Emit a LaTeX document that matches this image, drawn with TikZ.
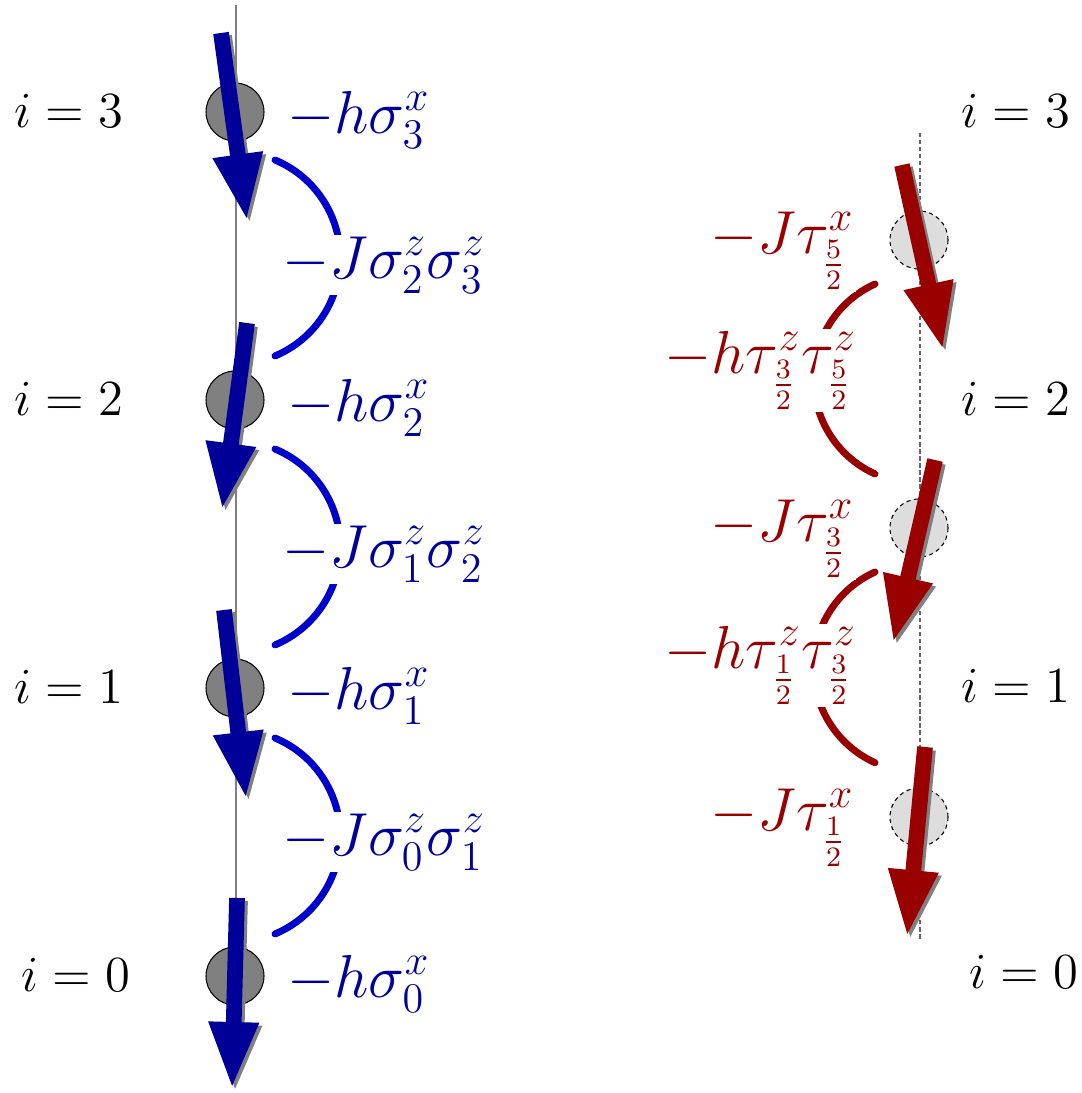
\documentclass[tikz,border=0pt]{standalone}
\usepackage{amsmath}
\usepackage{tikz}
\usetikzlibrary{arrows.meta, positioning}
\definecolor{spinblue}{RGB}{0,0,153}
\definecolor{bondblue}{RGB}{0,0,204}
\definecolor{spinred}{RGB}{153,0,0}
\definecolor{shadowgray}{RGB}{128,128,128}
\definecolor{sitegray}{RGB}{128,128,128}
\definecolor{dualgray}{RGB}{221,221,221}
\tikzset{
  site/.style={circle, draw=black, fill=sitegray, minimum size=5.8mm,
    inner sep=0pt, line width=0.3pt},
  dualsite/.style={circle, draw=black, fill=dualgray, minimum size=5.8mm,
    inner sep=0pt, line width=0.3pt, dash pattern=on 1.2pt off 1pt},
  spin/.style={line width=1.57mm, -{Triangle[length=6.7mm, width=4.6mm]}},
  spinshadow/.style={spin, draw=shadowgray,
    transform canvas={xshift=0.3mm, yshift=-0.3mm}},
  bond/.style={line width=0.7mm, line cap=round},
  idx/.style={font=\fontsize{15.8}{19}\selectfont, anchor=base west, inner sep=0pt},
  term/.style={font=\fontsize{16.7}{20}\selectfont, anchor=base west,
    fill=white, inner sep=0.5pt}
}

\begin{document}
\begin{tikzpicture}[x=0.1mm, y=0.1mm]
  \useasboundingbox (0,0) rectangle (1081,-1093);
  % original chain
  \draw[gray, line width=0.4pt] (236,-5) -- (236,-976);
  \node[site] (s3) at (235,-112) {};
  \node[site] (s2) at (235,-400) {};
  \node[site] (s1) at (235,-688) {};
  \node[site] (s0) at (235,-976) {};
  \node[idx] (i3) at (14,-127) {$i=3$};
  \node[idx] (i2) at (14,-415) {$i=2$};
  \node[idx] (i1) at (14,-703) {$i=1$};
  \node[idx] (i0) at (21,-991) {$i=0$};
  % bonds
  \draw[bond, bondblue] (275,-160) arc[start angle=67.3, end angle=-67.3, radius=10.62mm];
  \draw[bond, bondblue] (275,-449) arc[start angle=67.3, end angle=-67.3, radius=10.62mm];
  \draw[bond, bondblue] (275,-738) arc[start angle=67.3, end angle=-67.3, radius=10.62mm];
  % transverse field and coupling terms
  \node[term, text=spinblue] (h3) at (285,-133) {$-h\sigma^x_3$};
  \node[term, text=spinblue] (h2) at (285,-421) {$-h\sigma^x_2$};
  \node[term, text=spinblue] (h1) at (285,-709) {$-h\sigma^x_1$};
  \node[term, text=spinblue] (h0) at (285,-997) {$-h\sigma^x_0$};
  \node[term, text=spinblue] (j23) at (280,-278) {$-J\sigma^z_2\sigma^z_3$};
  \node[term, text=spinblue] (j12) at (280,-567) {$-J\sigma^z_1\sigma^z_2$};
  \node[term, text=spinblue] (j01) at (280,-855) {$-J\sigma^z_0\sigma^z_1$};
  % spins
  \coordinate (b3a) at (221,-33);  \coordinate (b3b) at (247,-221);
  \coordinate (b2a) at (247,-323); \coordinate (b2b) at (222,-510);
  \coordinate (b1a) at (224,-610); \coordinate (b1b) at (246,-799);
  \coordinate (b0a) at (237,-898); \coordinate (b0b) at (232,-1089);
  \draw[spinshadow] (b3a) -- (b3b);
  \draw[spin, spinblue] (b3a) -- (b3b);
  \draw[spinshadow] (b2a) -- (b2b);
  \draw[spin, spinblue] (b2a) -- (b2b);
  \draw[spinshadow] (b1a) -- (b1b);
  \draw[spin, spinblue] (b1a) -- (b1b);
  \draw[spinshadow] (b0a) -- (b0b);
  \draw[spin, spinblue] (b0a) -- (b0b);

  % dual chain
  \draw[black!60, line width=0.4pt, dash pattern=on 1.2pt off 0.8pt] (920,-133) -- (920,-940);
  \node[dualsite] (d5) at (919,-240) {};
  \node[dualsite] (d3) at (919,-528) {};
  \node[dualsite] (d1) at (919,-817) {};
  \node[idx] (k3) at (961,-127) {$i=3$};
  \node[idx] (k2) at (961,-415) {$i=2$};
  \node[idx] (k1) at (961,-702) {$i=1$};
  \node[idx] (k0) at (969,-988) {$i=0$};
  % dual bonds
  \draw[bond, spinred] (875,-284) arc[start angle=114.4, end angle=245.6, radius=10.43mm];
  \draw[bond, spinred] (875,-572) arc[start angle=114.4, end angle=245.6, radius=10.47mm];
  % dual terms
  \node[term, text=spinred] (t5) at (708,-253) {$-J\tau^x_{\frac{5}{2}}$};
  \node[term, text=spinred] (t3) at (708,-541) {$-J\tau^x_{\frac{3}{2}}$};
  \node[term, text=spinred] (t1) at (708,-830) {$-J\tau^x_{\frac{1}{2}}$};
  \node[term, text=spinred] (u35) at (662,-373) {$-h\tau^z_{\frac{3}{2}}\tau^z_{\frac{5}{2}}$};
  \node[term, text=spinred] (u13) at (662,-668) {$-h\tau^z_{\frac{1}{2}}\tau^z_{\frac{3}{2}}$};
  % dual spins
  \coordinate (r5a) at (902,-165); \coordinate (r5b) at (943,-350);
  \coordinate (r3a) at (935,-460); \coordinate (r3b) at (893,-643);
  \coordinate (r1a) at (925,-747); \coordinate (r1b) at (907,-937);
  \draw[spinshadow] (r5a) -- (r5b);
  \draw[spin, spinred] (r5a) -- (r5b);
  \draw[spinshadow] (r3a) -- (r3b);
  \draw[spin, spinred] (r3a) -- (r3b);
  \draw[spinshadow] (r1a) -- (r1b);
  \draw[spin, spinred] (r1a) -- (r1b);
\end{tikzpicture}
\end{document}
